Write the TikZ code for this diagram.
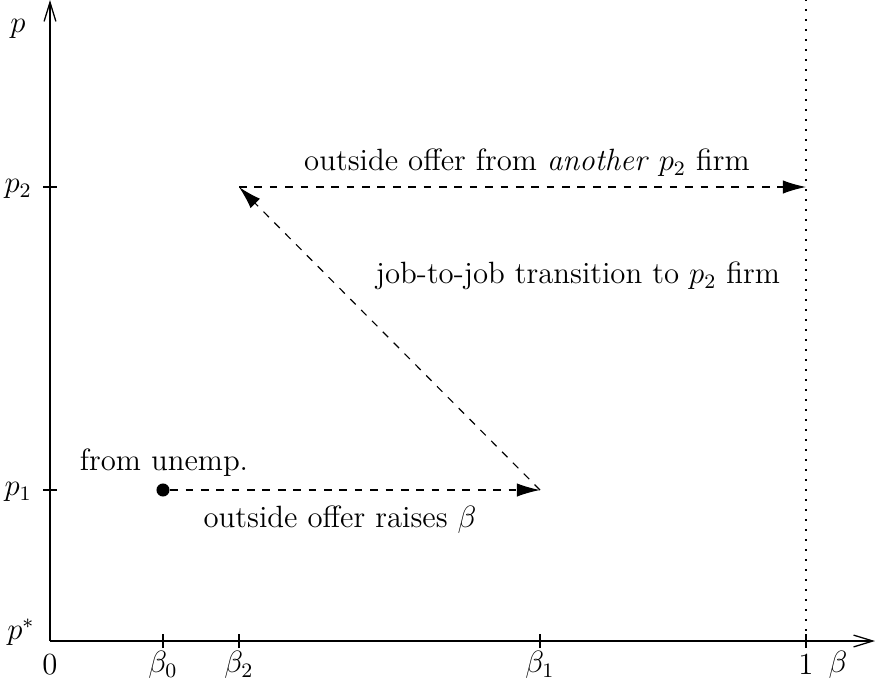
\documentclass[tikz,border=0pt]{standalone}
\usepackage{amsmath,amssymb}
\usepackage{xcolor}
\usepackage{tikz}
\usetikzlibrary{arrows.meta}

\begin{document}
\begin{tikzpicture}[>={Straight Barb[length=7.5pt, width=4.6pt]}, x=0.39pt, y=0.39pt,
  line width=0.5pt, every node/.style={font=\large},
  move/.style={dashed, line width=0.45pt, -{Latex[length=9pt, width=5.2pt]}},
  tickmark/.style={line width=0.45pt}]
  \useasboundingbox (-50,-53) rectangle (825,641);
  % axes
  \coordinate (o) at (0,0);
  \coordinate (xend) at (825,0);
  \coordinate (yend) at (0,641);
  \draw[->] (o) -- (xend);
  \draw[->] (o) -- (yend);
  \node (lp) at (-32,612) {$p$};
  \node (lpstar) at (-29,9) {$p^*$};
  \node (lzero) at (0,-24) {$0$};
  \node (lbeta) at (788,-24) {$\beta$};
  % ticks on the beta axis
  \foreach \xx/\nm/\lab in {113/b0/\beta_0, 189/b2/\beta_2, 490/b1/\beta_1, 756/one/1} {
    \coordinate (\nm) at (\xx,0);
    \draw[tickmark] (\xx,-7) -- (\xx,7);
    \node (l\nm) at (\xx,-24) {$\lab$};
  }
  % ticks on the p axis
  \foreach \yy/\nm/\lab in {151/p1/p_1, 454/p2/p_2} {
    \coordinate (\nm) at (0,\yy);
    \draw[tickmark] (-7,\yy) -- (7,\yy);
    \node[anchor=east] (l\nm) at (-9,\yy-2) {$\lab$};
  }
  % the line beta = 1
  \coordinate (onetop) at (756,641);
  \draw[line width=0.45pt, dash pattern=on 0.6pt off 3.3pt] (one) -- (onetop);
  % path of the worker
  \coordinate (b1p1) at (490,151);
  \coordinate (b2p2) at (189,454);
  \coordinate (onep2) at (756,454);
  \node[circle, fill, inner sep=1.8pt] (start) at (113,151) {};
  \draw[move] (start) -- (b1p1);
  \draw[move] (b1p1) -- (b2p2);
  \draw[move] (b2p2) -- (onep2);
  \node (tunemp) at (114,178) {from unemp.};
  \node (traise) at (290,121) {outside offer raises $\beta$};
  \node (tjob) at (528,365) {job-to-job transition to $p_2$ firm};
  \node (tother) at (477,478) {outside offer from \emph{another} $p_2$ firm};
\end{tikzpicture}
\end{document}
